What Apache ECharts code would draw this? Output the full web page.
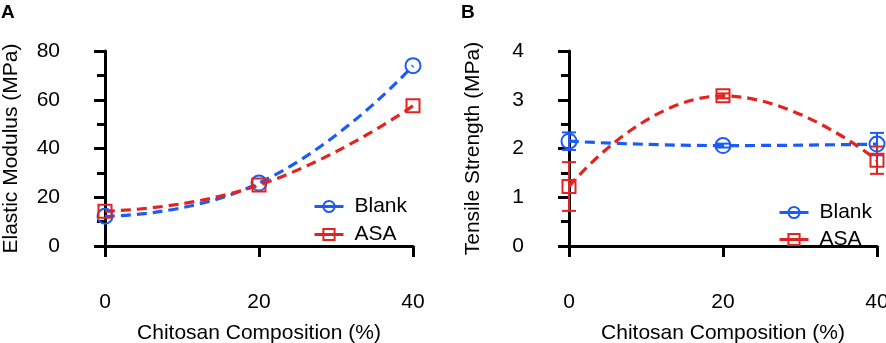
<!DOCTYPE html>
<html>
<head>
<meta charset="utf-8">
<script src="https://cdn.jsdelivr.net/npm/echarts@6/dist/echarts.min.js"></script>
<style>
html,body{margin:0;padding:0;background:#fff;}
#chart{width:886px;height:343px;}
</style>
</head>
<body>
<div id="chart"></div>
<script>
//x 轴：壳聚糖含量 (%)
var composition = [0, 20, 40];
//A：弹性模量 (MPa)
var modulusBlank = [12.2, 25.8, 74.0];
var modulusASA = [14.3, 25.0, 57.5];
//B：拉伸强度 (MPa) 及误差
var strengthBlank = [2.15, 2.06, 2.09];
var strengthBlankErr = [0.18, 0.04, 0.23];
var strengthASA = [1.22, 3.08, 1.76];
var strengthASAErr = [0.5, 0.05, 0.28];

var FONT = 'Liberation Sans, Arial, Helvetica, sans-serif';
var FS = 21;
var BLUE = '#1c5cf6';
var RED = '#e2231f';

function pairs(vals) {
	return vals.map(function(v, i) {
		return [composition[i], v];
	});
}

//曲线 + 空心标记
function lineSeries(name, vals, color, symbol, idx) {
	return {
		name: name,
		type: 'line',
		xAxisIndex: idx,
		yAxisIndex: idx,
		smooth: true,
		clip: false,
		symbol: symbol,
		symbolSize: symbol == 'circle' ? 15 : 13,
		z: 3,
		lineStyle: { color: color, width: 3.2, type: [10, 6] },
		itemStyle: { color: 'rgba(255,255,255,0)', borderColor: color, borderWidth: 2 },
		data: pairs(vals)
	};
}

//误差棒
function errorSeries(name, vals, errs, color, idx) {
	return {
		name: name,
		type: 'custom',
		xAxisIndex: idx,
		yAxisIndex: idx,
		z: 2,
		clip: false,
		renderItem: function(params, api) {
			var lo = api.coord([api.value(0), api.value(1)]);
			var hi = api.coord([api.value(0), api.value(2)]);
			var w = 7;
			var style = { stroke: color, lineWidth: 2 };
			return {
				type: 'group',
				children: [
					{ type: 'line', shape: { x1: lo[0], y1: lo[1], x2: hi[0], y2: hi[1] }, style: style },
					{ type: 'line', shape: { x1: lo[0] - w, y1: lo[1], x2: lo[0] + w, y2: lo[1] }, style: style },
					{ type: 'line', shape: { x1: hi[0] - w, y1: hi[1], x2: hi[0] + w, y2: hi[1] }, style: style }
				]
			};
		},
		data: vals.map(function(v, i) {
			return [composition[i], v - errs[i], v + errs[i]];
		})
	};
}

function xAxisOpt(idx) {
	return {
		type: 'value',
		gridIndex: idx,
		min: 0,
		max: 40,
		interval: 20,
		offset: 31,
		name: 'Chitosan Composition (%)',
		nameLocation: 'middle',
		nameGap: 46,
		nameTextStyle: { fontSize: FS, fontFamily: FONT, color: '#000' },
		axisLine: { lineStyle: { color: '#000', width: 3 } },
		axisTick: { length: 11, lineStyle: { color: '#000', width: 3 } },
		axisLabel: { fontSize: FS, fontFamily: FONT, color: '#000', margin: 15 },
		splitLine: { show: false }
	};
}

function yAxisOpt(idx, name, max, interval, gap) {
	return {
		type: 'value',
		gridIndex: idx,
		min: 0,
		max: max,
		interval: interval,
		offset: 31,
		name: name,
		nameLocation: 'middle',
		nameGap: gap,
		nameTextStyle: { fontSize: FS, fontFamily: FONT, color: '#000' },
		axisLine: { show: true, lineStyle: { color: '#000', width: 3 } },
		axisTick: { show: true, length: 11, lineStyle: { color: '#000', width: 3 } },
		minorTick: { show: true, splitNumber: 2, length: 8, lineStyle: { color: '#000', width: 3 } },
		axisLabel: { fontSize: FS, fontFamily: FONT, color: '#000', margin: 14 },
		splitLine: { show: false }
	};
}

function legendOpt(left, top, gap) {
	return {
		data: ['Blank', 'ASA'],
		orient: 'vertical',
		left: left,
		top: top,
		padding: 0,
		itemWidth: 29,
		itemHeight: 14,
		itemGap: gap,
		lineStyle: { type: 'solid', width: 3 },
		textStyle: { fontSize: FS, fontFamily: FONT, color: '#000', padding: [0, 0, 0, 6] }
	};
}

var myChart = echarts.init(document.getElementById('chart'));
var option = {
	animation: false,
	title: [
		{ text: 'A', left: 1, top: 3, padding: 0, textStyle: { fontSize: 19, fontWeight: 'bold', fontFamily: FONT, color: '#000' } },
		{ text: 'B', left: 461, top: 3, padding: 0, textStyle: { fontSize: 19, fontWeight: 'bold', fontFamily: FONT, color: '#000' } }
	],
	legend: [legendOpt(313, 196, 7), legendOpt(778, 202, 6)],
	grid: [
		{ left: 105, top: 51, width: 308, height: 195, outerBoundsMode: 'none' },
		{ left: 569, top: 51, width: 308, height: 195, outerBoundsMode: 'none' }
	],
	xAxis: [xAxisOpt(0), xAxisOpt(1)],
	yAxis: [
		yAxisOpt(0, 'Elastic Modulus (MPa)', 80, 20, 52),
		yAxisOpt(1, 'Tensile Strength (MPa)', 4, 1, 54)
	],
	series: [
		lineSeries('Blank', modulusBlank, BLUE, 'circle', 0),
		lineSeries('ASA', modulusASA, RED, 'rect', 0),
		errorSeries('Blank', strengthBlank, strengthBlankErr, BLUE, 1),
		errorSeries('ASA', strengthASA, strengthASAErr, RED, 1),
		lineSeries('Blank', strengthBlank, BLUE, 'circle', 1),
		lineSeries('ASA', strengthASA, RED, 'rect', 1)
	]
};
myChart.setOption(option);
</script>
</body>
</html>
